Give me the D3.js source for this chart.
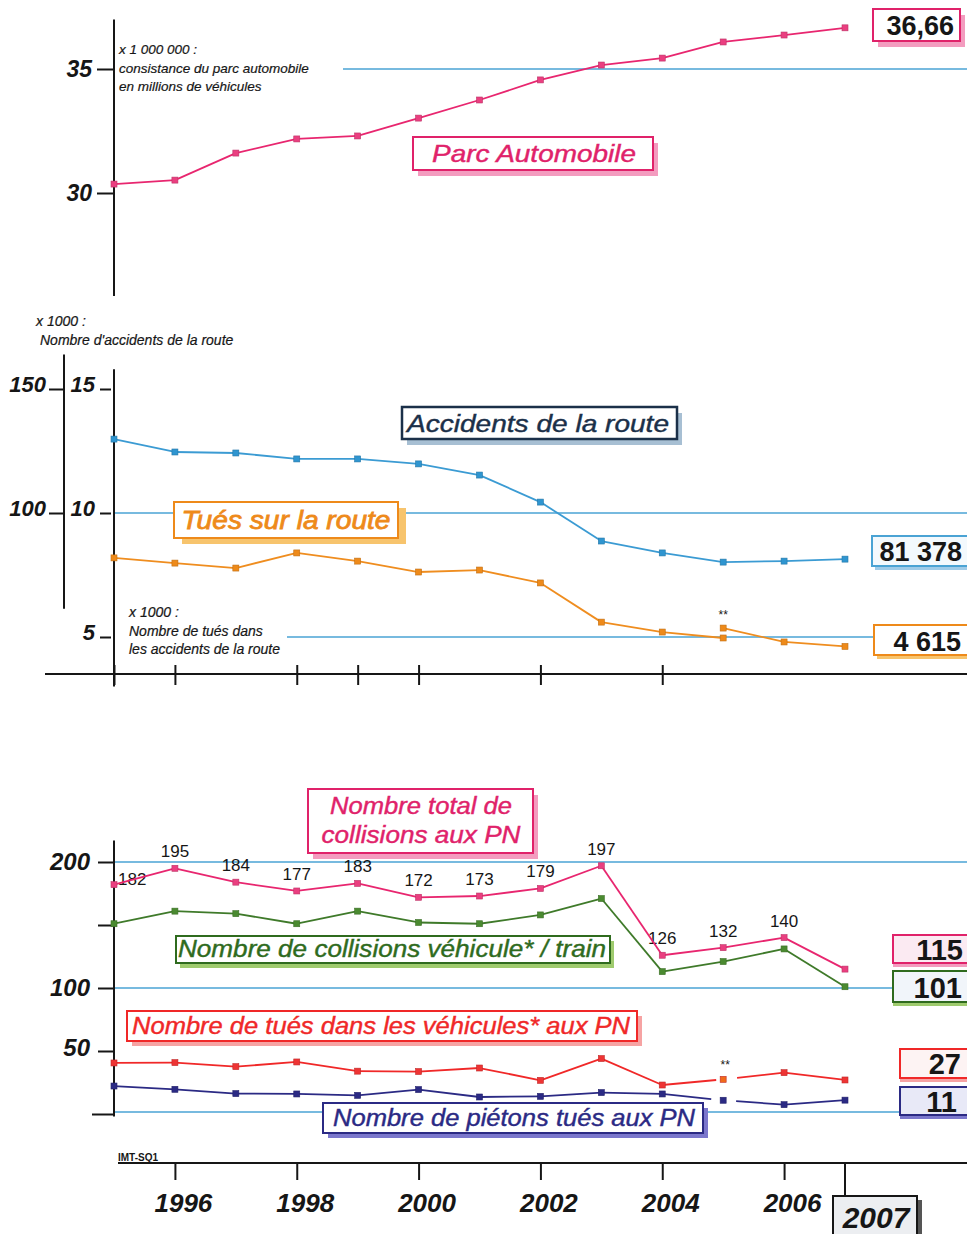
<!DOCTYPE html>
<html>
<head>
<meta charset="utf-8">
<script src="https://cdn.jsdelivr.net/npm/d3@7"></script>
<style>
  body { margin: 0; background: #fff; }
  svg { display: block; }
</style>
</head>
<body>
<svg id="chart" width="967" height="1234"></svg>
<script>
// ---- data ----
const years = [1995, 1996, 1997, 1998, 1999, 2000, 2001, 2002, 2003, 2004, 2005, 2006, 2007];
// parc automobile, millions of vehicles
const parc = [30.36, 30.52, 31.61, 32.18, 32.30, 33.02, 33.75, 34.56, 35.16, 35.44, 36.09, 36.37, 36.66];
// road accidents, x1000
const accidents = [129.8, 124.6, 124.2, 121.8, 121.8, 119.8, 115.3, 104.4, 88.7, 83.9, 80.2, 80.6, 81.4];
// killed on the road, x1000 (until 2005 old counting method)
const tues = [8.19, 7.98, 7.78, 8.39, 8.06, 7.62, 7.70, 7.18, 5.60, 5.20, 4.96];
// killed on the road, x1000 (new counting method from 2005 **)
const tuesNewYears = [2005, 2006, 2007];
const tuesNew = [5.36, 4.80, 4.62];
// level crossings (PN)
const collisionsTotal = [182, 195, 184, 177, 183, 172, 173, 179, 197, 126, 132, 140, 115];
const collisionsVT = [151, 161, 159, 151, 161, 152, 151, 158, 171, 113, 121, 131, 101];
const tuesVehicules = [40.5, 40.8, 37.6, 41.3, 34.0, 33.7, 36.5, 26.7, 44.0, 23.0, 27.5, 32.8, 27];
const pietons = [22.2, 19.6, 16.2, 15.9, 14.8, 19.4, 13.5, 14.0, 17.0, 15.9, 10.9, 7.4, 11];
// tick values / labels
const parcTicks = [30, 35];
const tuesTicks = [5, 10, 15];
const accTicks = [100, 150];
const pnTicks = [0, 50, 100, 150, 200];
const pnLabelled = [50, 100, 200];
const midYearTicks = [1995, 1996, 1998, 1999, 2000, 2002, 2004];
const bottomYearTicks = [1996, 1998, 2000, 2002, 2004, 2006];
const lastYear = 2007;
const breakYear = 2005;
const lastLabels = { parc: "36,66", accidents: "81 378", tues: "4 615", total: "115", vt: "101", vehic: "27", piet: "11" };

// ---- setup ----
const W = 967, H = 1234;
const FONT = "'Liberation Sans', Arial, Helvetica, sans-serif";
const NARROW = "'Liberation Sans Narrow', 'Arial Narrow', 'Liberation Sans', Arial, sans-serif";
const svg = d3.select('#chart').attr('font-family', FONT);
svg.append('rect').attr('width', W).attr('height', H).attr('fill', '#fff');

const x = d3.scaleLinear().domain([1995, 2007]).range([114, 845]);
const yParc = d3.scaleLinear().domain([30, 35]).range([193, 69]);
const yTues = d3.scaleLinear().domain([5, 10]).range([637, 513]);
const yAcc = d3.scaleLinear().domain([50, 100]).range([637, 513]);
const yPN = d3.scaleLinear().domain([0, 200]).range([1114, 862]);
const fmtInt = d3.format('d');

const GRID = '#4aa3d4';
const INK = '#161616';

function hgrid(y, x1, x2) {
  svg.append('line').attr('x1', x1).attr('x2', x2).attr('y1', y).attr('y2', y)
    .attr('stroke', GRID).attr('stroke-width', 1.3);
}
function vline(xp, y1, y2, w) {
  svg.append('line').attr('x1', xp).attr('x2', xp).attr('y1', y1).attr('y2', y2)
    .attr('stroke', INK).attr('stroke-width', w || 2);
}
function styleAxis(g, size) {
  g.attr('font-family', FONT);
  g.select('.domain').remove();
  g.selectAll('.tick line').attr('stroke', INK).attr('stroke-width', 2);
  g.selectAll('.tick text').attr('fill', INK).attr('font-size', size)
    .attr('font-weight', 'bold').attr('font-style', 'italic');
}

// draw a series: pts = [[year, value], ...]
function series(pts, ys, color, opts) {
  opts = opts || {};
  const g = svg.append('g');
  const gap = opts.gap; // {year, before, after}
  for (let i = 0; i < pts.length - 1; i++) {
    let x0 = x(pts[i][0]), y0 = ys(pts[i][1]);
    let x1 = x(pts[i + 1][0]), y1 = ys(pts[i + 1][1]);
    const len = Math.hypot(x1 - x0, y1 - y0);
    let s = 0, e = 1;
    if (gap && pts[i + 1][0] === gap.year) e = 1 - gap.before / len;
    if (gap && pts[i][0] === gap.year) s = gap.after / len;
    g.append('path')
      .attr('d', d3.line()([[x0 + (x1 - x0) * s, y0 + (y1 - y0) * s], [x0 + (x1 - x0) * e, y0 + (y1 - y0) * e]]))
      .attr('stroke', color).attr('stroke-width', 1.8).attr('fill', 'none');
  }
  g.selectAll('rect').data(pts).join('rect')
    .attr('x', d => x(d[0]) - 3).attr('y', d => ys(d[1]) - 3)
    .attr('width', 6).attr('height', 6)
    .attr('fill', d => (opts.oddColor && d[0] === opts.oddYear) ? opts.oddColor : (opts.marker || color))
    .attr('stroke', d3.color(opts.marker || color).darker(0.6)).attr('stroke-width', 0.6);
}

function box(o) {
  svg.append('rect').attr('x', o.x + (o.dx == null ? 5 : o.dx)).attr('y', o.y + (o.dy == null ? 6 : o.dy))
    .attr('width', o.w).attr('height', o.h).attr('fill', o.shadow);
  svg.append('rect').attr('x', o.x).attr('y', o.y).attr('width', o.w).attr('height', o.h)
    .attr('fill', o.fill || '#fff').attr('stroke', o.stroke).attr('stroke-width', o.sw || 2);
  (o.lines || []).forEach(l => {
    const t = svg.append('text').attr('x', l.x).attr('y', l.y).text(l.t)
      .attr('fill', o.color).attr('font-size', o.size).attr('font-style', o.italic === false ? 'normal' : 'italic')
      .attr('font-weight', o.weight || 'normal').attr('text-anchor', l.anchor || 'middle');
    if (l.len) t.attr('textLength', l.len).attr('lengthAdjust', 'spacingAndGlyphs');
    if (o.heavy) t.attr('stroke', o.color).attr('stroke-width', o.heavy);
  });
}

function note(lines, x0, y0, step, size) {
  lines.forEach((t, i) => svg.append('text').attr('x', x0).attr('y', y0 + i * step).text(t)
    .attr('font-size', size).attr('font-style', 'italic').attr('fill', INK)
    .attr('stroke', INK).attr('stroke-width', 0.2));
}

// =============== TOP: parc automobile ===============
hgrid(yParc(35), 343, W);
vline(114, yParc(37.0), yParc(25.85));
const gParc = svg.append('g').attr('transform', 'translate(114,0)')
  .call(d3.axisLeft(yParc).tickValues(parcTicks).tickFormat(fmtInt).tickSize(17).tickPadding(5));
styleAxis(gParc, 23);
note(['x 1 000 000 :', 'consistance du parc automobile', 'en millions de véhicules'], 119, 54, 18.5, 13.5);

series(years.map((y, i) => [y, parc[i]]), yParc, '#e8266f', { marker: '#ea3f80' });

box({ x: 413, y: 137, w: 240, h: 33, stroke: '#e0226a', shadow: '#f39cbf', color: '#e0226a', size: 24, heavy: 0.4,
  lines: [{ t: 'Parc Automobile', x: 534, y: 162, len: 204 }] });
box({ x: 873, y: 9, w: 87, h: 32, stroke: '#e0226a', shadow: '#f39cbf', color: INK, size: 27, weight: 'bold', italic: false,
  lines: [{ t: lastLabels.parc, x: 954, y: 35, anchor: 'end' }] });

// =============== MIDDLE: accidents / tués ===============
hgrid(yTues(10), 114, W);
hgrid(yTues(5), 287, W);
vline(64, yAcc(163.9), yAcc(61.4));
vline(114, yTues(15.8), yTues(3.0));
const gAcc = svg.append('g').attr('transform', 'translate(64,0)')
  .call(d3.axisLeft(yAcc).tickValues(accTicks).tickFormat(fmtInt).tickSize(15).tickPadding(3));
styleAxis(gAcc, 22);
gAcc.selectAll('.tick text').attr('dy', '0.1em');
const gTues = svg.append('g').attr('transform', 'translate(114,0)')
  .call(d3.axisLeft(yTues).tickValues(tuesTicks).tickFormat(fmtInt).tickSize(15).tickPadding(4));
styleAxis(gTues, 22);
gTues.selectAll('.tick text').attr('dy', '0.1em');
gTues.selectAll('.tick line').attr('x2', -14).attr('x1', -3);

note(['x 1000 :'], 36, 326, 0, 14);
note(["Nombre d'accidents de la route"], 40, 345, 0, 14);
note(['x 1000 :', 'Nombre de tués dans', 'les accidents de la route'], 129, 617, 18.5, 14);

// x axis of the middle block
svg.append('line').attr('x1', 45).attr('x2', W).attr('y1', 674).attr('y2', 674)
  .attr('stroke', INK).attr('stroke-width', 2);
const gMidX = svg.append('g').attr('transform', 'translate(0,674)')
  .call(d3.axisBottom(x).tickValues(midYearTicks).tickFormat('').tickSize(11));
gMidX.select('.domain').remove();
gMidX.selectAll('.tick line').attr('y1', -9).attr('stroke', INK).attr('stroke-width', 2);

series(years.map((y, i) => [y, accidents[i]]), yAcc, '#3b9bd3', { marker: '#2f95d0' });
series(years.slice(0, tues.length).map((y, i) => [y, tues[i]]), yTues, '#ef8d1f', { marker: '#ee8a1a' });
series(tuesNewYears.map((y, i) => [y, tuesNew[i]]), yTues, '#ef8d1f', { marker: '#ee8a1a' });
svg.append('text').attr('x', x(breakYear)).attr('y', yTues(tuesNew[0]) - 9).attr('text-anchor', 'middle')
  .attr('font-size', 12).attr('fill', INK).text('**');

box({ x: 402, y: 407, w: 275, h: 32, stroke: '#1b3049', shadow: '#a7bfd3', color: '#1b3049', size: 24, sw: 2.5, heavy: 0.4,
  lines: [{ t: 'Accidents de la route', x: 538, y: 432, len: 262 }] });
box({ x: 174, y: 502, w: 224, h: 36, dx: 8, dy: 6, stroke: '#ee8a1a', shadow: '#f7c46d', color: '#ee8a1a', size: 25, heavy: 0.8,
  lines: [{ t: 'Tués sur la route', x: 286, y: 529, len: 209 }] });
box({ x: 872, y: 536, w: 98, h: 30, dx: 3, dy: 4, stroke: '#4aa3d4', shadow: '#9fcbe8', fill: '#f3f9fd', color: INK, size: 27, weight: 'bold', italic: false,
  lines: [{ t: lastLabels.accidents, x: 962, y: 561, anchor: 'end' }] });
box({ x: 874, y: 625, w: 96, h: 30, dx: 3, dy: 4, stroke: '#ee8a1a', shadow: '#f7c46d', color: INK, size: 27, weight: 'bold', italic: false,
  lines: [{ t: lastLabels.tues, x: 961, y: 651, anchor: 'end' }] });

// =============== BOTTOM: passages à niveau ===============
hgrid(yPN(200), 114, W);
hgrid(yPN(100), 114, W);
hgrid(yPN(0) - 2, 114, W);
vline(114, yPN(217), yPN(-2));
const gPN = svg.append('g').attr('transform', 'translate(114,0)')
  .call(d3.axisLeft(yPN).tickValues(pnTicks).tickSize(16).tickPadding(8)
    .tickFormat(d => pnLabelled.includes(d) ? d : ''));
styleAxis(gPN, 24);
gPN.selectAll('.tick').filter(d => d === 0).select('line').attr('x2', -22);
gPN.selectAll('.tick').filter(d => d === 50).select('text').attr('dy', '0.2em');

// pink total labels
const totalPts = years.map((y, i) => [y, collisionsTotal[i]]);
svg.append('g').selectAll('text').data(totalPts).join('text')
  .attr('x', (d, i) => i === 0 ? x(d[0]) + 4 : x(d[0]))
  .attr('y', (d, i) => i === 0 ? yPN(d[1]) + 0 : yPN(d[1]) - 11)
  .attr('text-anchor', (d, i) => i === 0 ? 'start' : 'middle')
  .attr('font-family', NARROW).attr('font-size', 17).attr('fill', INK)
  .text((d, i) => i === years.length - 1 ? '' : d[1]);

series(totalPts, yPN, '#e8266f', { marker: '#ea3f80' });
series(years.map((y, i) => [y, collisionsVT[i]]), yPN, '#3f7a2a', { marker: '#4a8a30' });
series(years.map((y, i) => [y, tuesVehicules[i]]), yPN, '#f02828',
  { marker: '#ee3434', gap: { year: breakYear, before: 7, after: 14 }, oddYear: breakYear, oddColor: '#f06a1a' });
series(years.map((y, i) => [y, pietons[i]]), yPN, '#2b2a84',
  { marker: '#2b2a84', gap: { year: breakYear, before: 12, after: 13 } });
svg.append('text').attr('x', x(breakYear) + 2).attr('y', yPN(tuesVehicules[10]) - 10).attr('text-anchor', 'middle')
  .attr('font-size', 12).attr('fill', INK).text('**');

box({ x: 308, y: 789, w: 225, h: 64, stroke: '#e0226a', shadow: '#f39cbf', color: '#e0226a', size: 23, heavy: 0.4,
  lines: [{ t: 'Nombre total de', x: 421, y: 814, len: 182 }, { t: 'collisions aux PN', x: 421, y: 843, len: 199 }] });
box({ x: 176, y: 936, w: 434, h: 27, dx: 4, dy: 5, stroke: '#2f6b1e', shadow: '#9fcb6e', color: '#2f6b1e', size: 23, heavy: 0.4,
  lines: [{ t: 'Nombre de collisions véhicule* / train', x: 392, y: 957, len: 428 }] });
box({ x: 127, y: 1011, w: 510, h: 30, dx: 5, dy: 5, stroke: '#f02828', shadow: '#f6a3a3', color: '#f02828', size: 23, heavy: 0.4,
  lines: [{ t: 'Nombre de tués dans les véhicules* aux PN', x: 381, y: 1034, len: 498 }] });
box({ x: 323, y: 1103, w: 380, h: 30, dx: 5, dy: 5, stroke: '#2b2a84', shadow: '#7b77cc', color: '#2b2a84', size: 23, heavy: 0.4,
  lines: [{ t: 'Nombre de piétons tués aux PN', x: 514, y: 1126, len: 362 }] });

box({ x: 893, y: 935, w: 80, h: 28, dx: 0, dy: 4, stroke: '#e0226a', shadow: '#f39cbf', fill: '#fbeaf2', color: INK, size: 29, weight: 'bold', italic: false,
  lines: [{ t: lastLabels.total, x: 963, y: 960, anchor: 'end' }] });
box({ x: 893, y: 971, w: 80, h: 31, dx: 0, dy: 4, stroke: '#2f6b1e', shadow: '#9fcb6e', fill: '#f1f5fa', color: INK, size: 29, weight: 'bold', italic: false,
  lines: [{ t: lastLabels.vt, x: 962, y: 998, anchor: 'end' }] });
box({ x: 900, y: 1049, w: 73, h: 29, dx: 0, dy: 4, stroke: '#f02828', shadow: '#f6a3a3', fill: '#fdf3f3', color: INK, size: 29, weight: 'bold', italic: false,
  lines: [{ t: lastLabels.vehic, x: 961, y: 1074, anchor: 'end' }] });
box({ x: 900, y: 1087, w: 73, h: 28, dx: 0, dy: 4, stroke: '#2b2a84', shadow: '#7b77cc', fill: '#e8e9f7', color: INK, size: 29, weight: 'bold', italic: false,
  lines: [{ t: lastLabels.piet, x: 957, y: 1112, anchor: 'end' }] });

// bottom x axis
svg.append('line').attr('x1', 118).attr('x2', W).attr('y1', 1163).attr('y2', 1163)
  .attr('stroke', INK).attr('stroke-width', 2);
const gX = svg.append('g').attr('transform', 'translate(0,1163)')
  .call(d3.axisBottom(x).tickValues(bottomYearTicks).tickFormat(fmtInt).tickSize(17).tickPadding(14));
styleAxis(gX, 26);
gX.selectAll('.tick text').attr('dx', 8);
vline(x(lastYear), 1163, 1196, 2);
svg.append('text').attr('x', 118).attr('y', 1161).attr('font-size', 10).attr('font-weight', 'bold')
  .attr('fill', INK).text('IMT-SQ1');
box({ x: 833, y: 1196, w: 84, h: 44, dx: 5, dy: 4, stroke: INK, shadow: '#555', fill: '#eceef1', color: INK, size: 30, weight: 'bold',
  lines: [{ t: String(lastYear), x: 876, y: 1228 }] });
</script>
</body>
</html>
